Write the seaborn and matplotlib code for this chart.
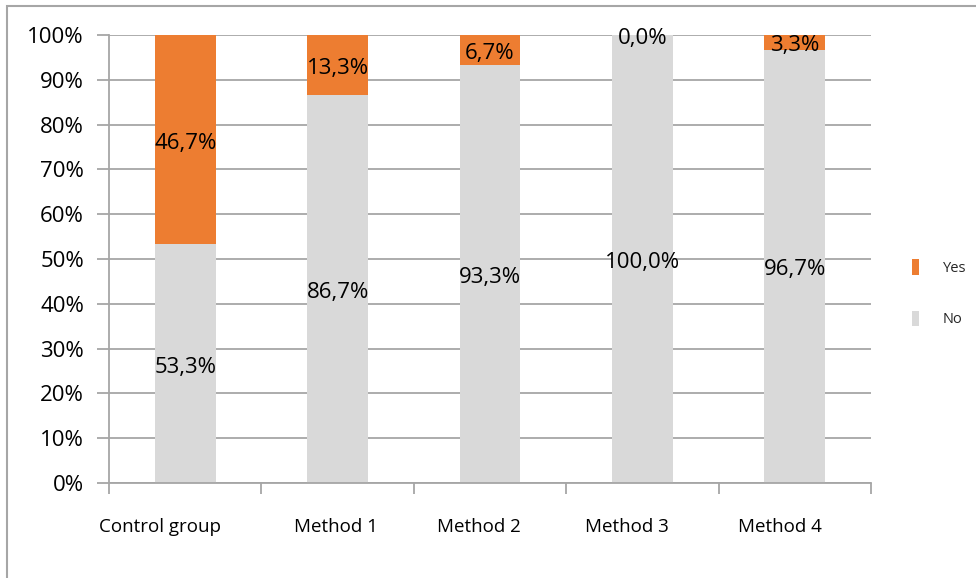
import matplotlib
matplotlib.use("Agg")
import matplotlib.pyplot as plt
import matplotlib.transforms as mtransforms
from matplotlib.patches import Patch, Rectangle
import numpy as np
import pandas as pd
import seaborn as sns

# Share of answers per group (percent)
categories = ["Control group", "Method 1", "Method 2", "Method 3", "Method 4"]
no_values = [53.3, 86.7, 93.3, 100.0, 96.7]
yes_values = [46.7, 13.3, 6.7, 0.0, 3.3]
y_ticks = [0, 10, 20, 30, 40, 50, 60, 70, 80, 90, 100]

ORANGE = "#ED7D31"
GREY = "#D9D9D9"
LINE = "#A6A6A6"

# horizontal nudge of each category label, in points
label_shift_pt = [-18, -1.5, -8, -11, -10.5]

sns.set_theme(style="white")
plt.rcParams["font.family"] = ["Open Sans", "DejaVu Sans"]

df = pd.DataFrame({
    "group": categories,
    "No": no_values,
    "Yes": yes_values,
})
df["Total"] = df["No"] + df["Yes"]

fig = plt.figure(figsize=(9.76, 5.78), dpi=100)
ax = fig.add_axes([109 / 976, 1 - 483 / 578, (871 - 109) / 976, (483 - 35) / 578])

# stacked bars: full height in orange, the "No" part drawn over it in grey
sns.barplot(data=df, x="group", y="Total", color=ORANGE, width=0.4,
            saturation=1, linewidth=0, ax=ax, zorder=3)
sns.barplot(data=df, x="group", y="No", color=GREY, width=0.4,
            saturation=1, linewidth=0, ax=ax, zorder=3)

ax.set_ylim(0, 100)
ax.set_xlim(-0.5, len(categories) - 0.5)
ax.set_yticks(y_ticks)
ax.set_yticklabels([f"{v}%" for v in y_ticks], fontsize=16, color="black")
ax.yaxis.grid(True, color=LINE, linewidth=1.3, zorder=0)
ax.set_axisbelow(True)
ax.set_xlabel("")
ax.set_ylabel("")

ax.tick_params(axis="y", which="major", length=9, width=1.3, color=LINE,
               direction="out", left=True, pad=9)
ax.tick_params(axis="x", which="major", length=0, pad=25.5, labelsize=13.5,
               labelcolor="black")
ax.set_xticks(np.arange(-0.5, len(categories)), minor=True)
ax.tick_params(axis="x", which="minor", length=8, width=1.3, color=LINE,
               direction="out", bottom=True)

for lbl, dx in zip(ax.get_xticklabels(), label_shift_pt):
    lbl.set_transform(lbl.get_transform() +
                      mtransforms.ScaledTranslation(dx / 72, 0, fig.dpi_scale_trans))

for side in ["top", "right"]:
    ax.spines[side].set_visible(False)
for side in ["left", "bottom"]:
    ax.spines[side].set_color(LINE)
    ax.spines[side].set_linewidth(1.3)
    ax.spines[side].set_zorder(4)

# value labels centred in each segment
def fmt(v):
    return f"{v:.1f}%".replace(".", ",")

for i, (n, y) in enumerate(zip(no_values, yes_values)):
    ax.annotate(fmt(n), (i, n / 2), xytext=(0, -2.5), textcoords="offset points",
                ha="center", va="center", fontsize=16, color="black", zorder=5)
    ax.annotate(fmt(y), (i, n + y / 2), xytext=(0, -2.5), textcoords="offset points",
                ha="center", va="center", fontsize=16, color="black", zorder=5)

handles = [Patch(facecolor=ORANGE, edgecolor="none", label="Yes"),
           Patch(facecolor=GREY, edgecolor="none", label="No")]
fig.legend(handles=handles, loc="center left",
           bbox_to_anchor=(899 / 976, 1 - 293 / 578), frameon=False,
           fontsize=10.5, handlelength=0.5, handleheight=1.3,
           handletextpad=1.6, labelspacing=2.4)

# outer chart border
fig.patches.append(Rectangle((6.5 / 976, -0.2), 1.2, 1.2 - 5.5 / 578,
                             transform=fig.transFigure, fill=False,
                             edgecolor=LINE, linewidth=1.5, zorder=0))

fig.savefig("out.png", dpi=100, facecolor="white")
